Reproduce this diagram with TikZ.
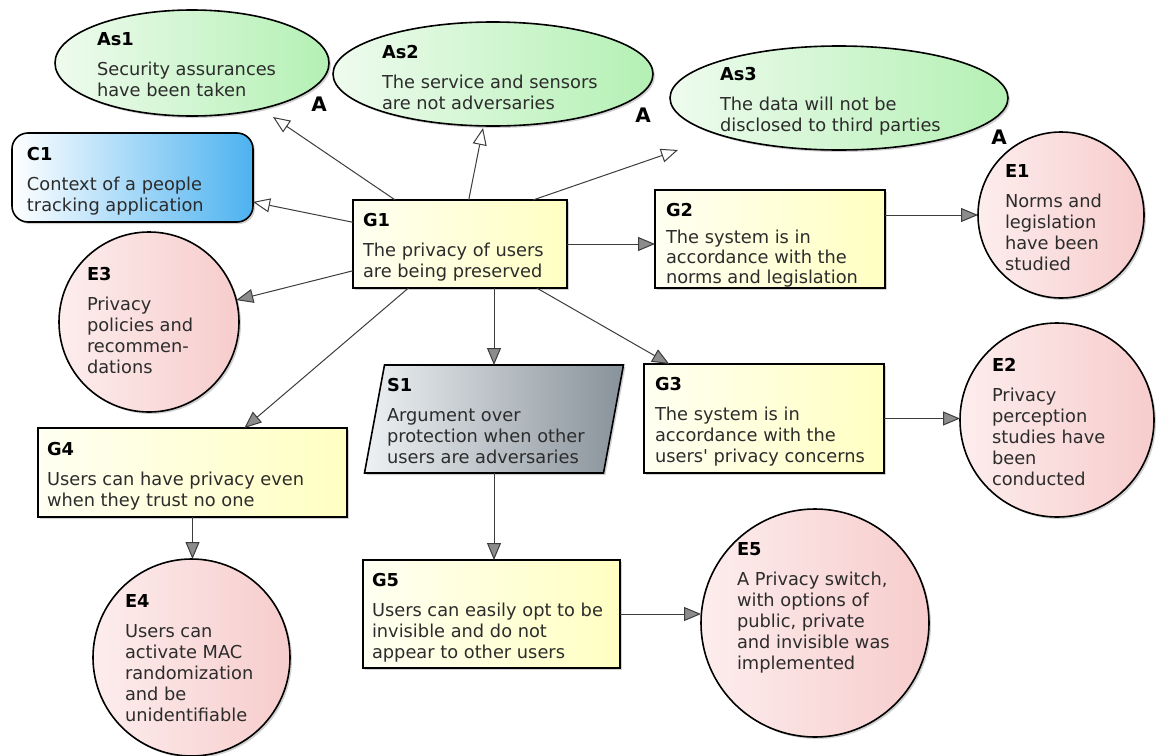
\documentclass[tikz,border=0pt]{standalone}
\usepackage{fontspec}
\setmainfont{DejaVu Sans}
\usetikzlibrary{arrows.meta,shapes.geometric,shadows}

% fills (left to right shading)
\definecolor{goalL}{RGB}{255,255,242}
\definecolor{goalR}{RGB}{255,255,194}
\definecolor{asmL}{RGB}{238,251,238}
\definecolor{asmR}{RGB}{180,240,180}
\definecolor{evL}{RGB}{253,237,237}
\definecolor{evR}{RGB}{247,204,204}
\definecolor{ctxL}{RGB}{255,255,255}
\definecolor{ctxR}{RGB}{76,178,240}
\definecolor{strL}{RGB}{238,241,243}
\definecolor{strR}{RGB}{136,146,154}
\definecolor{ink}{RGB}{44,44,44}
\definecolor{wire}{RGB}{60,60,60}
\definecolor{tipgray}{RGB}{140,140,140}

\newcommand\gsnhead[1]{{\bfseries\color{black}#1}}

\tikzset{
  softshadow/.style={drop shadow={shadow xshift=2pt, shadow yshift=-2pt, opacity=0.18, fill=black}},
  shapebase/.style={draw=black, line width=1.6pt, inner sep=0pt, outer sep=0pt, softshadow},
  goalbox/.style={shapebase, rectangle, left color=goalL, right color=goalR},
  asmbox/.style={shapebase, ellipse, left color=asmL, right color=asmR},
  evbox/.style={shapebase, circle, left color=evL, right color=evR},
  ctxbox/.style={shapebase, rectangle, rounded corners=16pt, left color=ctxL, right color=ctxR},
  txt/.style={anchor=north west, inner sep=0pt, outer sep=0pt, align=left, text=ink,
    font=\fontsize{17.8}{21}\selectfont},
  atag/.style={inner sep=0pt, text=black, font=\fontsize{20}{24}\selectfont\bfseries},
  solvedby/.style={draw=wire, line width=1pt, -{Triangle[length=17pt,width=14pt,fill=tipgray]}},
  incontext/.style={draw=wire, line width=1pt, -{Triangle[length=17pt,width=14pt,fill=white]}},
}

\begin{document}
\begin{tikzpicture}[x=1pt,y=-1pt]
\useasboundingbox (0,0) rectangle (1156,755);

% assumptions
\node[asmbox, minimum width=274, minimum height=106] (As1) at (192,63) {};
\node[asmbox, minimum width=320, minimum height=104] (As2) at (493,74) {};
\node[asmbox, minimum width=338, minimum height=104] (As3) at (839,98) {};
\node[atag] (As1a) at (319,104) {A};
\node[atag] (As2a) at (643,115) {A};
\node[atag] (As3a) at (999,137) {A};

% context
\node[ctxbox, minimum width=241, minimum height=89] (C1) at (132.5,177.5) {};

% goals
\node[goalbox, minimum width=214, minimum height=88] (G1) at (460,244) {};
\node[goalbox, minimum width=230, minimum height=98] (G2) at (770,239) {};
\node[goalbox, minimum width=240, minimum height=109] (G3) at (764,418.5) {};
\node[goalbox, minimum width=309, minimum height=89] (G4) at (192.5,472.5) {};
\node[goalbox, minimum width=257, minimum height=108] (G5) at (491.5,614) {};

% strategy (parallelogram drawn around a plain node)
\node[rectangle, inner sep=0pt, outer sep=0pt, minimum width=239, minimum height=108] (S1) at (494,419) {};
\path[draw=black, line width=1.6pt, softshadow, left color=strL, right color=strR]
  ([xshift=10pt]S1.north west) -- ([xshift=10pt]S1.north east)
  -- ([xshift=-10pt]S1.south east) -- ([xshift=-10pt]S1.south west) -- cycle;

% evidence
\node[evbox, minimum size=166] (E1) at (1061,215) {};
\node[evbox, minimum size=194] (E2) at (1057,420) {};
\node[evbox, minimum size=180] (E3) at (149,322) {};
\node[evbox, minimum size=197] (E4) at (191.5,657.5) {};
\node[evbox, minimum size=228] (E5) at (815,623) {};

% texts
\node[txt] (As1t) at (97,33) {\gsnhead{As1}\\[9pt]Security assurances\\have been taken};
\node[txt] (As2t) at (382,45) {\gsnhead{As2}\\[9pt]The service and sensors\\are not adversaries};
\node[txt] (As3t) at (720,67) {\gsnhead{As3}\\[9pt]The data will not be\\disclosed to third parties};
\node[txt] (C1t) at (27,147) {\gsnhead{C1}\\[9pt]Context of a people\\tracking application};
\node[txt] (G1t) at (363,213) {\gsnhead{G1}\\[9pt]The privacy of users\\are being preserved};
\node[txt, font=\fontsize{17.8}{19.6}\selectfont] (G2t) at (666,203) {\gsnhead{G2}\\[8pt]The system is in\\accordance with the\\norms and legislation};
\node[txt] (E1t) at (1005,165) {\gsnhead{E1}\\[9pt]Norms and\\legislation\\have been\\studied};
\node[txt] (E3t) at (87,267) {\gsnhead{E3}\\[9pt]Privacy\\policies and\\recommen-\\dations};
\node[txt] (G4t) at (47,442) {\gsnhead{G4}\\[9pt]Users can have privacy even\\when they trust no one};
\node[txt] (S1t) at (387,378) {\gsnhead{S1}\\[9pt]Argument over\\protection when other\\users are adversaries};
\node[txt] (G3t) at (655,377) {\gsnhead{G3}\\[9pt]The system is in\\accordance with the\\users\textquotesingle{} privacy concerns};
\node[txt] (E2t) at (992,358) {\gsnhead{E2}\\[9pt]Privacy\\perception\\studies have\\been\\conducted};
\node[txt] (G5t) at (372,573) {\gsnhead{G5}\\[9pt]Users can easily opt to be\\invisible and do not\\appear to other users};
\node[txt] (E4t) at (125,595) {\gsnhead{E4}\\[9pt]Users can\\activate MAC\\randomization\\and be\\unidentifiable};
\node[txt] (E5t) at (737,543) {\gsnhead{E5}\\[9pt]A Privacy switch,\\with options of\\public, private\\and invisible was\\implemented};

% free ends of the in-context-of links
\coordinate (pAs1) at (273,117);
\coordinate (pAs2) at (483,128);
\coordinate (pAs3) at (678,150);

% in context of
\draw[incontext] (G1) -- (pAs1);
\draw[incontext] (G1) -- (pAs2);
\draw[incontext] ([xshift=73pt]G1.north) -- (pAs3);
\draw[incontext] (G1) -- (C1);

% supported by
\draw[solvedby] (G1) -- (E3);
\draw[solvedby] (G1) -- (G4);
\draw[solvedby] (G1) -- (G3);
\draw[solvedby] (G1.east) -- (G1.east -| G2.west);
\draw[solvedby] (S1.north |- G1.south) -- (S1.north);
\draw[solvedby] (E1.west -| G2.east) -- (E1.west);
\draw[solvedby] (G3.east) -- (G3.east -| E2.west);
\draw[solvedby] (S1.south) -- (S1.south |- G5.north);
\draw[solvedby] (G4.south) -- (G4.south |- E4.north);
\draw[solvedby] (G5.east) -- (G5.east -| E5.west);
\end{tikzpicture}
\end{document}
